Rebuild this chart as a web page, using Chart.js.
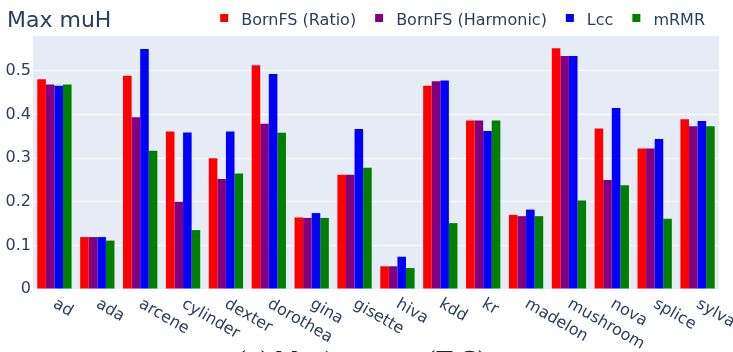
<!DOCTYPE html>
<html>
<head>
<meta charset="utf-8">
<script src="https://cdn.jsdelivr.net/npm/chart.js@4/dist/chart.umd.min.js"></script>
<style>
html,body{margin:0;padding:0;background:#fff}
#wrap{position:relative;width:733px;height:352px;overflow:hidden}
</style>
</head>
<body>
<div id="wrap"><canvas id="barChart" width="733" height="352"></canvas></div>
<script>

// data
const categories=['ad','ada','arcene','cylinder','dexter','dorothea','gina','gisette','hiva','kdd','kr','madelon','mushroom','nova','splice','sylva']
const seriesNames=['BornFS (Ratio)','BornFS (Harmonic)','Lcc','mRMR']
const ratio=[0.481,0.119,0.489,0.361,0.300,0.513,0.164,0.262,0.052,0.466,0.386,0.170,0.552,0.368,0.322,0.389]
const harmonic=[0.469,0.119,0.394,0.200,0.252,0.379,0.163,0.262,0.052,0.476,0.386,0.167,0.534,0.250,0.322,0.373]
const lcc=[0.466,0.119,0.550,0.359,0.361,0.493,0.174,0.367,0.074,0.478,0.362,0.182,0.534,0.415,0.344,0.385]
const mrmr=[0.469,0.111,0.317,0.135,0.265,0.358,0.163,0.278,0.048,0.151,0.386,0.167,0.203,0.238,0.161,0.373]
const yTicks=[0,0.1,0.2,0.3,0.4,0.5]

const colors=['#ff0000','#800080','#0000ff','#008000']
const fontFam='"DejaVu Sans", Verdana, sans-serif'
const txtColor='#2a3f5f'

// background, title, legend, rotated labels, caption
const decor={
id:'decor',
beforeDraw(chart){
const {ctx,chartArea:a}=chart
ctx.save()
ctx.fillStyle='#e5ecf6'
ctx.fillRect(a.left,a.top,a.right-a.left,a.bottom-a.top)
ctx.restore()
},
afterDraw(chart){
const ctx=chart.ctx
const x=chart.scales.x
ctx.save()

// title
ctx.fillStyle=txtColor
ctx.font='22px '+fontFam
ctx.textAlign='left'
ctx.textBaseline='alphabetic'
ctx.fillText('Max muH',7,27)

// legend
ctx.font='16px '+fontFam
let widths=seriesNames.map(n=>ctx.measureText(n).width)
let total=0
widths.forEach((w,i)=>{total+=21+w; if(i<widths.length-1) total+=19})
let lx=705-total
seriesNames.forEach((n,i)=>{
ctx.fillStyle=colors[i]
ctx.fillRect(lx,14,8,8)
ctx.fillStyle=txtColor
ctx.fillText(n,lx+21,25)
lx+=21+widths[i]+19
})

// x labels rotated 30deg
ctx.font='16px '+fontFam
ctx.fillStyle=txtColor
ctx.textBaseline='middle'
categories.forEach((c,i)=>{
let px=x.getPixelForValue(i)
ctx.save()
ctx.translate(px,303)
ctx.rotate(Math.PI/6)
ctx.fillText(c,0,0)
ctx.restore()
})

// caption (cut off at the bottom)
ctx.font='22px "DejaVu Serif", "Liberation Serif", serif'
ctx.textBaseline='alphabetic'
ctx.fillStyle='#222'
let cx=238
let s1='(a) Maximum μ'
ctx.fillText(s1,cx,367)
cx+=ctx.measureText(s1).width
ctx.font='15px "DejaVu Serif", "Liberation Serif", serif'
ctx.fillText('H',cx,371)
cx+=ctx.measureText('H').width
ctx.font='22px "DejaVu Serif", "Liberation Serif", serif'
ctx.fillText(' (𝕋,ℂ)',cx,367)

ctx.restore()
}
}

new Chart(document.getElementById('barChart'),{
type:'bar',
data:{
labels:categories,
datasets:[
{label:seriesNames[0],data:ratio,backgroundColor:colors[0]},
{label:seriesNames[1],data:harmonic,backgroundColor:colors[1]},
{label:seriesNames[2],data:lcc,backgroundColor:colors[2]},
{label:seriesNames[3],data:mrmr,backgroundColor:colors[3]}
]
},
options:{
responsive:false,
animation:false,
devicePixelRatio:1,
layout:{padding:{top:36,right:14,left:0,bottom:0}},
datasets:{bar:{categoryPercentage:0.8,barPercentage:1.0,borderWidth:0}},
plugins:{legend:{display:false},title:{display:false},tooltip:{enabled:false}},
scales:{
x:{
grid:{display:false},
border:{display:false},
ticks:{display:false},
afterFit:s=>{s.height=63}
},
y:{
min:0,
max:0.58,
afterBuildTicks:s=>{s.ticks=yTicks.map(v=>({value:v}))},
afterFit:s=>{s.width=33},
grid:{color:'#ffffff',lineWidth:1,drawTicks:false},
border:{display:false},
ticks:{
padding:2,
color:txtColor,
font:{family:'DejaVu Sans',size:16},
callback:v=>v===0?'0':v.toFixed(1)
}
}
}
},
plugins:[decor]
})

</script>
</body>
</html>
